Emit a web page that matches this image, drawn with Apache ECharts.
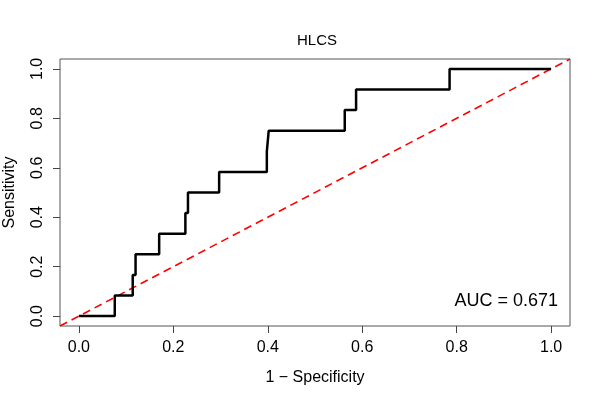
<!DOCTYPE html>
<html>
<head>
    <meta charset="utf-8">
    <title>HLCS ROC</title>
    <style>
        html, body { margin: 0; padding: 0; background: #fff; }
    </style>
</head>
<body>
    <div id="main" style="width: 600px;height:400px;"></div>

    <script src="https://cdn.jsdelivr.net/npm/echarts@6.0.0/dist/echarts.min.js"></script>
    <script>
        // ROC points (1 - specificity, sensitivity)
        var fpr = [0, 0.076, 0.114, 0.120, 0.170, 0.2255, 0.231, 0.297, 0.398, 0.402, 0.563, 0.587, 0.785, 1.0];
        var tpr = [0, 0.0833, 0.1667, 0.25, 0.3333, 0.4167, 0.5, 0.5833, 0.6667, 0.75, 0.8333, 0.9167, 1.0, 1.0];
        // chance line, drawn across the whole plot
        var diagX = [-0.04, 1.04];
        var diagY = [-0.04, 1.04];
        var ticks = [0, 0.2, 0.4, 0.6, 0.8, 1.0];
        var aucText = 'AUC = 0.671';

        var font = 'Liberation Sans, Arial, sans-serif';
        var rocData = fpr.map(function (x, i) { return [x, tpr[i]]; });
        var diagData = diagX.map(function (x, i) { return [x, diagY[i]]; });

        var myChart = echarts.init(document.getElementById('main'));

        function axis(extra) {
            return echarts.util.merge({
                type: 'value',
                min: -0.04,
                max: 1.04,
                splitLine: { show: false },
                axisLine: { show: false, onZero: false },
                axisTick: {
                    show: true,
                    inside: false,
                    length: 7,
                    customValues: ticks,
                    lineStyle: { color: '#444', width: 1 }
                },
                axisLabel: {
                    customValues: ticks,
                    color: '#000',
                    fontFamily: font,
                    fontSize: 16,
                    formatter: function (v) { return v.toFixed(1); }
                },
                nameLocation: 'middle',
                nameTextStyle: { color: '#000', fontFamily: font, fontSize: 16 }
            }, extra, true);
        }

        var option = {
            animation: false,
            title: {
                text: 'HLCS',
                left: 312,
                textAlign: 'center',
                top: 28,
                textStyle: { fontFamily: font, fontSize: 15, fontWeight: 'normal', color: '#000' }
            },
            grid: {
                left: 60,
                right: 30,
                top: 59,
                bottom: 74,
                outerBoundsMode: 'none',
                containLabel: false,
                show: true,
                borderColor: '#555',
                borderWidth: 1
            },
            xAxis: axis({
                position: 'bottom',
                name: '1 \u2212 Specificity',
                nameGap: 44,
                axisLabel: { margin: 14 }
            }),
            yAxis: axis({
                position: 'left',
                name: 'Sensitivity',
                nameGap: 42,
                axisLabel: { rotate: 90, margin: 14 }
            }),
            graphic: [{
                type: 'text',
                right: 42,
                top: 292,
                style: {
                    text: aucText,
                    fill: '#000',
                    font: '18px ' + font
                }
            }],
            series: [{
                type: 'line',
                data: diagData,
                symbol: 'none',
                lineStyle: { color: '#ff0000', width: 1.6, type: [8, 5] },
                z: 1
            }, {
                type: 'line',
                data: rocData,
                step: 'end',
                symbol: 'none',
                lineStyle: { color: '#000', width: 2.5 },
                z: 2
            }]
        };

        myChart.setOption(option);
    </script>
</body>
</html>
